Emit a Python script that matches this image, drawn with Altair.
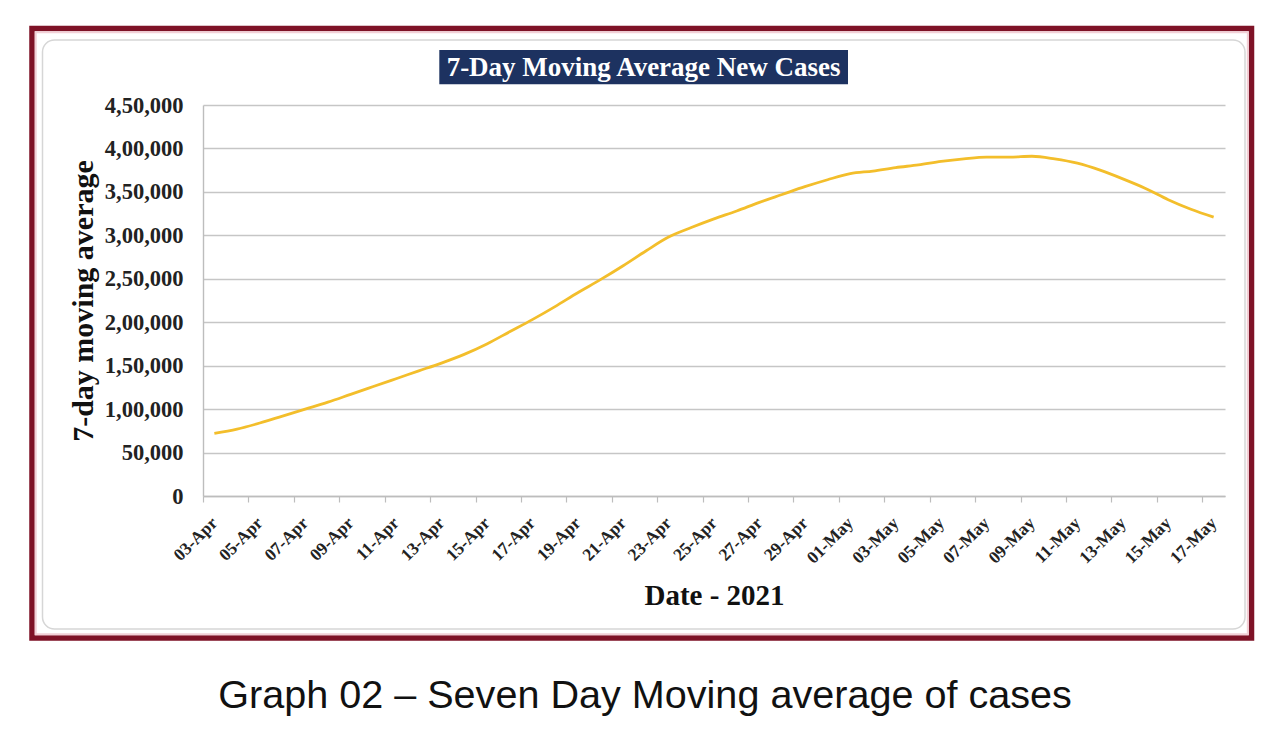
import altair as alt
import pandas as pd

# ---------------- data ----------------
dates = [
    "03-Apr", "04-Apr", "05-Apr", "06-Apr", "07-Apr", "08-Apr", "09-Apr", "10-Apr",
    "11-Apr", "12-Apr", "13-Apr", "14-Apr", "15-Apr", "16-Apr", "17-Apr", "18-Apr",
    "19-Apr", "20-Apr", "21-Apr", "22-Apr", "23-Apr", "24-Apr", "25-Apr", "26-Apr",
    "27-Apr", "28-Apr", "29-Apr", "30-Apr", "01-May", "02-May", "03-May", "04-May",
    "05-May", "06-May", "07-May", "08-May", "09-May", "10-May", "11-May", "12-May",
    "13-May", "14-May", "15-May", "16-May", "17-May",
]
cases_7day_avg = [
    72000, 77000, 84000, 92000, 100000, 108000, 117000, 126000,
    135000, 144000, 153000, 163000, 175000, 189000, 203000, 218000,
    234000, 249000, 265000, 282000, 298000, 309000, 319000, 328000,
    338000, 347000, 356000, 364000, 371000, 374000, 378000, 381000,
    385000, 388000, 390000, 390000, 391000, 388000, 383000, 375000,
    365000, 354000, 341000, 330000, 321000,
]
x_tick_labels = [
    "03-Apr", "05-Apr", "07-Apr", "09-Apr", "11-Apr", "13-Apr", "15-Apr", "17-Apr",
    "19-Apr", "21-Apr", "23-Apr", "25-Apr", "27-Apr", "29-Apr", "01-May", "03-May",
    "05-May", "07-May", "09-May", "11-May", "13-May", "15-May", "17-May",
]
y_tick_values = [0, 50000, 100000, 150000, 200000, 250000, 300000, 350000, 400000, 450000]
y_tick_labels = ["0", "50,000", "1,00,000", "1,50,000", "2,00,000", "2,50,000",
                 "3,00,000", "3,50,000", "4,00,000", "4,50,000"]

title_text = "7-Day Moving Average New Cases"
x_title = "Date - 2021"
y_title = "7-day moving average"
caption_text = "Graph 02 \u2013 Seven Day Moving average of cases"

# ---------------- layout ----------------
W, H = 1022, 391
STEP = W / len(dates)
SERIF = "Liberation Serif"

df = pd.DataFrame({"date": dates, "value": cases_7day_avg})
label_expr = "[" + ",".join("'%s'" % s for s in y_tick_labels) + "][round(datum.value/50000)]"


def one_row():
    return alt.Data(values=[{"k": 1}])


outer_frame = alt.Chart(one_row()).mark_rect(
    fillOpacity=0, stroke="#7e1226", strokeWidth=5.5
).encode(x=alt.value(-171), x2=alt.value(1048.5), y=alt.value(-76.5), y2=alt.value(533))

outer_glow = alt.Chart(one_row()).mark_rect(
    fillOpacity=0, stroke="#f2d0d6", strokeWidth=2
).encode(x=alt.value(-167.3), x2=alt.value(1044.8), y=alt.value(-72.8), y2=alt.value(529.3))

inner_frame = alt.Chart(one_row()).mark_rect(
    fillOpacity=0, stroke="#d6d6d6", strokeWidth=1.5, cornerRadius=12
).encode(x=alt.value(-160.5), x2=alt.value(1042), y=alt.value(-65), y2=alt.value(524))

title_box = alt.Chart(one_row()).mark_rect(color="#1d3260").encode(
    x=alt.value(236.3), x2=alt.value(645), y=alt.value(-55), y2=alt.value(-20.7)
)

title_label = alt.Chart(one_row()).mark_text(
    text=title_text, font=SERIF, fontWeight="bold", fontSize=27, color="#ffffff",
    align="center", baseline="alphabetic"
).encode(x=alt.value(440.6), y=alt.value(-29.3))

caption = alt.Chart(one_row()).mark_text(
    text=caption_text, font="Liberation Sans", fontSize=39.6, color="#111111",
    align="center", baseline="alphabetic"
).encode(x=alt.value(442), y=alt.value(603))

line = alt.Chart(df).mark_line(
    color="#F3BE2B", strokeWidth=2.8, interpolate="monotone"
).encode(
    x=alt.X(
        "date:O",
        sort=dates,
        scale=alt.Scale(type="point", padding=0.5),
        axis=alt.Axis(
            values=x_tick_labels,
            title=x_title,
            labelAngle=-45,
            labelAlign="right",
            labelBaseline="middle",
            labelFont=SERIF,
            labelFontWeight="bold",
            labelFontSize=17.5,
            labelColor="#222222",
            labelPadding=18,
            tickOffset=-STEP / 2,
            labelOffset=STEP / 2,
            tickSize=6,
            tickColor="#bdbdbd",
            tickWidth=1.2,
            domainColor="#bdbdbd",
            domainWidth=1.4,
            grid=False,
            titleFont=SERIF,
            titleFontSize=29,
            titleFontWeight="bold",
            titleColor="#111111",
            titleX=W / 2,
            titleY=108,
            titleAlign="center",
            titleBaseline="alphabetic",
        ),
    ),
    y=alt.Y(
        "value:Q",
        scale=alt.Scale(domain=[0, 450000], nice=False),
        axis=alt.Axis(
            values=y_tick_values,
            labelExpr=label_expr,
            title=y_title,
            labelFont=SERIF,
            labelFontWeight="bold",
            labelFontSize=22.5,
            labelColor="#222222",
            labelPadding=20,
            ticks=False,
            tickSize=0,
            domainColor="#bdbdbd",
            domainWidth=1.4,
            grid=True,
            gridColor="#c6c6c6",
            gridWidth=1.3,
            titleFont=SERIF,
            titleFontSize=30,
            titleFontWeight="bold",
            titleColor="#111111",
            titleAngle=270,
            titleX=-111,
            titleY=H / 2,
            titleAlign="center",
            titleBaseline="alphabetic",
        ),
    ),
)

chart = (
    alt.layer(outer_frame, outer_glow, inner_frame, title_box, title_label, caption, line)
    .properties(
        width=W,
        height=H,
        autosize="none",
        padding={"left": 195, "top": 97, "right": 45, "bottom": 220},
        background="#ffffff",
    )
    .configure_view(strokeWidth=0)
)

chart.save("out.html", embed_options={"renderer": "svg", "actions": False})
